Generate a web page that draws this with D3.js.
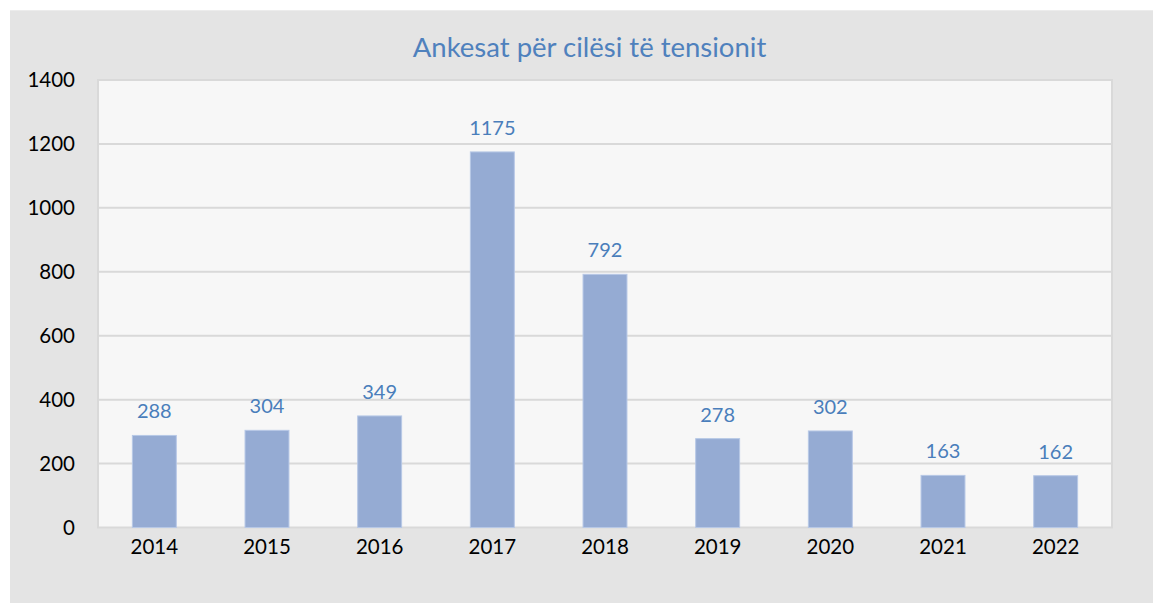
<!DOCTYPE html>
<html>
<head>
<meta charset="utf-8">
<script src="https://cdn.jsdelivr.net/npm/d3@7"></script>
<style>
  html, body { margin: 0; padding: 0; background: #ffffff; }
  svg { display: block; }
  text { font-family: Lato, "Open Sans", sans-serif; }
</style>
</head>
<body>
<svg id="chart" width="1153" height="603"></svg>
<script>
// Complaints about voltage quality, per year
const years = ["2014", "2015", "2016", "2017", "2018", "2019", "2020", "2021", "2022"];
const complaints = [288, 304, 349, 1175, 792, 278, 302, 163, 162];
const yTicks = [0, 200, 400, 600, 800, 1000, 1200, 1400];
const title = "Ankesat për cilësi të tensionit";

const W = 1153, H = 603;
const plot = { left: 98, right: 1112, top: 80, bottom: 527.5 };

const svg = d3.select("#chart");

// chart panel
svg.append("rect")
  .attr("x", 10).attr("y", 10)
  .attr("width", W - 10).attr("height", H - 10)
  .attr("fill", "#e4e4e4");
svg.append("line")
  .attr("x1", 10).attr("x2", W).attr("y1", 10.5).attr("y2", 10.5)
  .attr("stroke", "#ececec").attr("stroke-width", 1);

const x = d3.scaleBand()
  .domain(years)
  .range([plot.left, plot.right])
  .paddingInner(0.61)
  .paddingOuter(0.305);

const y = d3.scaleLinear()
  .domain([0, 1400])
  .range([plot.bottom, plot.top]);

// plot area
svg.append("rect")
  .attr("x", plot.left).attr("y", plot.top)
  .attr("width", plot.right - plot.left)
  .attr("height", plot.bottom - plot.top)
  .attr("fill", "#f7f7f7")
  .attr("stroke", "#d9d9d9")
  .attr("stroke-width", 2);

// horizontal gridlines
svg.append("g")
  .selectAll("line")
  .data(yTicks.filter(d => d > 0 && d < 1400))
  .join("line")
  .attr("x1", plot.left).attr("x2", plot.right)
  .attr("y1", d => y(d)).attr("y2", d => y(d))
  .attr("stroke", "#d9d9d9")
  .attr("stroke-width", 2);

// y axis labels
const yAxis = d3.axisLeft(y).tickValues(yTicks).tickSize(0).tickPadding(0).tickFormat(d3.format("d"));
const gy = svg.append("g")
  .attr("transform", `translate(${75},0)`)
  .call(yAxis);
gy.select(".domain").remove();
gy.selectAll("text")
  .attr("fill", "#000000")
  .attr("font-size", 20.5)
  .attr("font-family", "Lato, sans-serif");

// x axis labels
const xAxis = d3.axisBottom(x).tickSize(0).tickPadding(0);
const gx = svg.append("g")
  .attr("transform", `translate(0,${plot.bottom + 12})`)
  .call(xAxis);
gx.select(".domain").remove();
gx.selectAll("text")
  .attr("fill", "#000000")
  .attr("font-size", 20.5)
  .attr("font-family", "Lato, sans-serif");

// bars
const data = years.map((yr, i) => ({ year: yr, value: complaints[i] }));
svg.append("g")
  .selectAll("rect")
  .data(data)
  .join("rect")
  .attr("x", d => x(d.year))
  .attr("y", d => y(d.value))
  .attr("width", x.bandwidth())
  .attr("height", d => y(0) - y(d.value))
  .attr("fill", "#95abd3")
  .attr("stroke", "#b7c8e6")
  .attr("stroke-width", 1);

// value labels
svg.append("g")
  .selectAll("text")
  .data(data)
  .join("text")
  .attr("x", d => x(d.year) + x.bandwidth() / 2)
  .attr("y", d => y(d.value) - 17)
  .attr("text-anchor", "middle")
  .attr("font-size", 20)
  .attr("fill", "#4a7ebb")
  .text(d => d.value);

// title
svg.append("text")
  .attr("x", 589.5)
  .attr("y", 57)
  .attr("text-anchor", "middle")
  .attr("font-size", 27.5)
  .attr("fill", "#4f81bd")
  .text(title);
</script>
</body>
</html>
